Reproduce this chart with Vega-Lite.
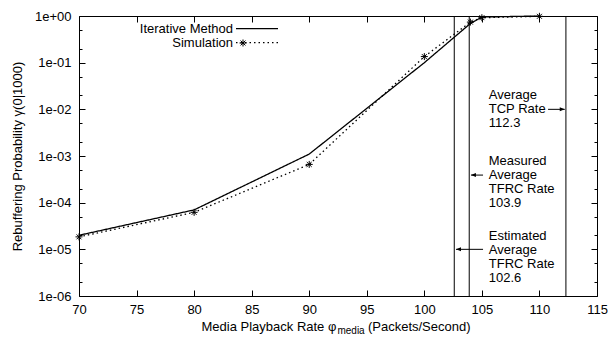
{
  "$schema": "https://vega.github.io/schema/vega-lite/v6.json",
  "width": 518,
  "height": 280,
  "autosize": "none",
  "padding": {"left": 79, "top": 16, "right": 16, "bottom": 41},
  "background": "white",
  "config": {
    "font": "Liberation Sans",
    "view": {"stroke": "black", "strokeWidth": 1},
    "axis": {
      "domain": false,
      "grid": false,
      "labelFontSize": 13,
      "titleFontSize": 13,
      "titleFontWeight": "normal",
      "labelColor": "black",
      "titleColor": "black",
      "tickColor": "black",
      "tickWidth": 1,
      "labelFlush": false,
      "labelOverlap": false,
      "labelFont": "Liberation Sans",
      "titleFont": "Liberation Sans"
    },
    "legend": {"labelFont": "Liberation Sans"}
  },
  "datasets": {
    "curves": [
      {"series": "Iterative Method", "rate": 70, "p": 2.0e-5},
      {"series": "Iterative Method", "rate": 80, "p": 7.0e-5},
      {"series": "Iterative Method", "rate": 90, "p": 1.1e-3},
      {"series": "Iterative Method", "rate": 100, "p": 0.1},
      {"series": "Iterative Method", "rate": 104, "p": 0.69},
      {"series": "Iterative Method", "rate": 105, "p": 0.95},
      {"series": "Iterative Method", "rate": 110, "p": 1.0},
      {"series": "Simulation", "rate": 70, "p": 1.85e-5},
      {"series": "Simulation", "rate": 80, "p": 6.2e-5},
      {"series": "Simulation", "rate": 90, "p": 6.6e-4},
      {"series": "Simulation", "rate": 100, "p": 0.135},
      {"series": "Simulation", "rate": 104, "p": 0.74},
      {"series": "Simulation", "rate": 105, "p": 0.92},
      {"series": "Simulation", "rate": 110, "p": 0.985}
    ],
    "rates": [
      {"name": "Estimated Average TFRC Rate", "value": 102.6},
      {"name": "Measured Average TFRC Rate", "value": 103.9},
      {"name": "Average TCP Rate", "value": 112.3}
    ],
    "notes": [
      {"note": "Average\nTCP Rate\n112.3", "x": 105.6, "y": 0.0203},
      {"note": "Measured\nAverage\nTFRC Rate\n103.9", "x": 105.6, "y": 7.9e-4},
      {"note": "Estimated\nAverage\nTFRC Rate\n102.6", "x": 105.6, "y": 1.96e-5}
    ],
    "arrows": [
      {"x": 110.75, "x2": 112.2, "y": 0.01, "dir": "right"},
      {"x": 105.1, "x2": 104.05, "y": 3.9e-4, "dir": "left"},
      {"x": 105.1, "x2": 102.75, "y": 1.0e-5, "dir": "left"}
    ],
    "titleparts": [
      {"text": "media", "role": "subscript", "x": 92.45, "y": 1e-6},
      {"text": "(Packets/Second)", "role": "unit", "x": 95.1, "y": 1e-6}
    ]
  },
  "resolve": {"axis": {"x": "independent", "y": "independent"}},
  "layer": [
    {
      "data": {"name": "curves"},
      "mark": {"type": "line", "color": "black", "strokeWidth": 1.3},
      "encoding": {
        "x": {
          "field": "rate", "type": "quantitative",
          "scale": {"domain": [70, 115], "nice": false, "zero": false},
          "axis": {
            "orient": "bottom",
            "values": [70, 75, 80, 85, 90, 95, 100, 105, 110, 115],
            "tickSize": -6,
            "labelPadding": 13,
            "title": "Media Playback Rate φ",
            "titleAnchor": "start",
            "titleAlign": "left",
            "titleX": 122,
            "titlePadding": 4
          }
        },
        "y": {
          "field": "p", "type": "quantitative",
          "scale": {"type": "log", "domain": [1e-6, 1], "nice": false},
          "axis": {
            "orient": "left",
            "values": [1e-6, 2e-6, 5e-6, 1e-5, 2e-5, 5e-5, 1e-4, 2e-4, 5e-4, 1e-3, 2e-3, 5e-3, 0.01, 0.02, 0.05, 0.1, 0.2, 0.5, 1],
            "tickSize": {"condition": {"test": "abs(log(datum.value)/LN10 - round(log(datum.value)/LN10)) < 0.001", "value": -6}, "value": -3},
            "labelPadding": 14,
            "labelExpr": "abs(log(datum.value)/LN10 - round(log(datum.value)/LN10)) < 0.001 ? ('1e' + (round(log(datum.value)/LN10) < 0 ? '-' : '+') + '0' + abs(round(log(datum.value)/LN10))) : ''",
            "title": "Rebuffering Probability γ(0|1000)",
            "titlePadding": 10
          }
        },
        "strokeDash": {
          "field": "series", "type": "nominal",
          "scale": {"domain": ["Iterative Method", "Simulation"], "range": [[1, 0], [1.5, 3]]},
          "legend": {
            "orient": "none", "legendX": 171, "legendY": 5.7, "title": null,
            "direction": "vertical", "labelAlign": "right", "labelOffset": -31,
            "labelFontSize": 13, "labelColor": "black",
            "symbolType": "M-3.5,0H3.5", "symbolSize": 144,
            "symbolStrokeWidth": 1.2, "symbolStrokeColor": "black",
            "rowPadding": -3, "padding": 0
          }
        }
      }
    },
    {
      "data": {"name": "curves"},
      "transform": [{"filter": "datum.series === 'Simulation'"}],
      "mark": {"type": "point", "filled": false, "color": "black", "strokeWidth": 1, "size": 49, "opacity": 1},
      "encoding": {
        "x": {"field": "rate", "type": "quantitative", "axis": null},
        "y": {"field": "p", "type": "quantitative", "axis": null},
        "shape": {
          "field": "series", "type": "nominal",
          "scale": {"domain": ["Simulation"], "range": ["M-1,0H1M0,-1V1M-0.7,-0.7L0.7,0.7M-0.7,0.7L0.7,-0.7"]},
          "legend": {
            "orient": "none", "legendX": 157.5, "legendY": 20.5, "title": null,
            "labelOpacity": 0, "labelFontSize": 13,
            "symbolSize": 49, "symbolStrokeColor": "black", "symbolStrokeWidth": 1,
            "symbolFillColor": "transparent", "padding": 0, "rowPadding": 0
          }
        }
      }
    },
    {
      "data": {"name": "rates"},
      "mark": {"type": "rule", "color": "black", "strokeWidth": 1},
      "encoding": {
        "x": {"field": "value", "type": "quantitative", "axis": null}
      }
    },
    {
      "data": {"name": "notes"},
      "mark": {"type": "text", "align": "left", "baseline": "middle", "lineBreak": "\n", "lineHeight": 14.2, "fontSize": 13, "color": "black", "font": "Liberation Sans"},
      "encoding": {
        "x": {"field": "x", "type": "quantitative", "axis": null},
        "y": {"field": "y", "type": "quantitative", "axis": null},
        "text": {"field": "note"}
      }
    },
    {
      "data": {"name": "arrows"},
      "mark": {"type": "rule", "color": "black", "strokeWidth": 1},
      "encoding": {
        "x": {"field": "x", "type": "quantitative", "axis": null},
        "x2": {"field": "x2"},
        "y": {"field": "y", "type": "quantitative", "axis": null}
      }
    },
    {
      "data": {"name": "arrows"},
      "transform": [{"filter": "datum.dir === 'right'"}],
      "mark": {"type": "point", "shape": "M0,0L-2,-0.8L-2,0.8Z", "filled": true, "color": "black", "size": 25, "opacity": 1},
      "encoding": {
        "x": {"field": "x2", "type": "quantitative", "axis": null},
        "y": {"field": "y", "type": "quantitative", "axis": null}
      }
    },
    {
      "data": {"name": "arrows"},
      "transform": [{"filter": "datum.dir === 'left'"}],
      "mark": {"type": "point", "shape": "M0,0L2,-0.8L2,0.8Z", "filled": true, "color": "black", "size": 25, "opacity": 1},
      "encoding": {
        "x": {"field": "x2", "type": "quantitative", "axis": null},
        "y": {"field": "y", "type": "quantitative", "axis": null}
      }
    },
    {
      "data": {"name": "titleparts"},
      "transform": [{"filter": "datum.role === 'subscript'"}],
      "mark": {"type": "text", "align": "left", "baseline": "middle", "fontSize": 10, "dy": 35, "color": "black", "font": "Liberation Sans"},
      "encoding": {
        "x": {"field": "x", "type": "quantitative", "axis": null},
        "y": {"field": "y", "type": "quantitative", "axis": null},
        "text": {"field": "text"}
      }
    },
    {
      "data": {"name": "titleparts"},
      "transform": [{"filter": "datum.role === 'unit'"}],
      "mark": {"type": "text", "align": "left", "baseline": "middle", "fontSize": 13, "dy": 31, "color": "black", "font": "Liberation Sans"},
      "encoding": {
        "x": {"field": "x", "type": "quantitative", "axis": null},
        "y": {"field": "y", "type": "quantitative", "axis": null},
        "text": {"field": "text"}
      }
    },
    {
      "data": {"name": "curves"},
      "mark": {"type": "point", "opacity": 0},
      "encoding": {
        "x": {
          "field": "rate", "type": "quantitative",
          "axis": {"orient": "top", "values": [70, 75, 80, 85, 90, 95, 100, 105, 110, 115], "tickSize": -6, "labels": false, "title": null}
        },
        "y": {
          "field": "p", "type": "quantitative",
          "axis": {
            "orient": "right",
            "values": [1e-6, 2e-6, 5e-6, 1e-5, 2e-5, 5e-5, 1e-4, 2e-4, 5e-4, 1e-3, 2e-3, 5e-3, 0.01, 0.02, 0.05, 0.1, 0.2, 0.5, 1],
            "tickSize": {"condition": {"test": "abs(log(datum.value)/LN10 - round(log(datum.value)/LN10)) < 0.001", "value": -6}, "value": -3},
            "labels": false, "title": null
          }
        }
      }
    }
  ]
}
